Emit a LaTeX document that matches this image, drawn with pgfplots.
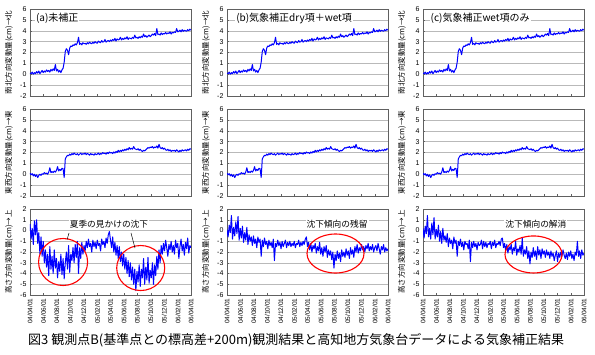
\documentclass[border=0pt]{standalone}
\usepackage{pgfplots}
\pgfplotsset{compat=1.18}
\usepackage{pgfplotstable}
\usepackage{fontspec}
\setmainfont{Liberation Sans}
\newfontfamily\jp{Noto Sans CJK JP}

\pgfplotstableread{
day ns ew ua ub uc
0 0.10 0.10 0.6 0.1 0.2
5 0.05 -0.05 -0.8 -0.6 -0.7
10 0.20 0.05 0.2 0.5 0.4
15 0.00 -0.15 -1.3 -0.2 -0.3
20 0.15 0.00 0.9 1.4 1.4
25 0.05 -0.20 -0.4 -0.8 -0.6
30 0.25 -0.05 1.0 0.3 0.2
35 0.10 -0.30 -1.2 -0.5 -0.8
40 0.30 -0.10 -0.2 0.8 0.7
45 0.05 0.00 -2.2 -0.3 -0.4
50 0.20 -0.10 -0.6 1.3 1.2
55 0.35 0.05 -2.4 -0.9 -0.8
60 0.15 0.00 -1.0 0.2 0.1
65 0.30 0.15 -3.0 -0.7 -0.6
70 0.20 0.05 -1.8 0.4 0.5
75 0.40 0.10 -3.4 -1.1 -1.0
80 0.25 0.00 -2.2 -0.2 -0.1
85 0.35 0.20 -4.2 -0.9 -1.2
90 0.20 0.60 -1.5 0.3 0.2
95 0.45 0.15 -3.6 -1.3 -0.9
100 0.30 0.25 -2.4 -0.4 -0.5
105 0.50 0.15 -4.0 -1.0 -1.1
110 0.35 0.30 -1.8 -0.6 -0.3
115 0.90 0.20 -3.5 -1.4 -1.5
120 0.30 0.35 -2.6 -0.5 -0.7
125 0.45 0.70 -4.4 -1.2 -1.2
130 0.20 0.30 -2.9 -0.8 -0.9
135 0.35 0.45 -3.8 -1.6 -1.7
140 0.15 0.35 -2.2 -0.6 -0.6
145 0.40 0.55 -4.1 -1.1 -1.2
150 0.55 0.50 -2.6 -0.8 -0.9
155 1.10 -0.30 -4.5 -2.4 -2.4
160 2.10 1.40 -3.0 -0.9 -1.0
165 2.35 1.60 -2.0 -1.5 -1.4
170 2.20 1.75 -3.6 -0.7 -0.8
175 1.80 1.70 -1.4 -1.3 -1.5
180 2.40 1.85 -3.9 -1.0 -1.1
185 2.60 1.75 -2.2 -1.7 -1.8
190 2.55 1.90 -2.8 -0.9 -1.0
195 2.70 1.80 -1.6 -1.4 -1.3
200 2.65 1.95 -3.0 -1.1 -1.2
205 2.80 1.85 -1.3 -1.6 -1.7
210 2.70 1.80 -2.5 -0.8 -0.9
215 2.90 1.90 -1.0 -2.8 -2.9
220 3.40 1.75 -4.0 -1.2 -1.1
225 2.75 1.85 -1.6 -1.5 -1.6
230 2.85 1.95 -2.6 -0.9 -1.0
235 2.70 1.80 -1.1 -1.4 -1.5
240 2.90 1.90 -2.2 -1.1 -1.2
245 2.80 1.85 -1.4 -1.7 -1.8
250 2.85 1.95 -1.9 -1.0 -1.1
255 2.75 1.80 -1.0 -1.5 -1.4
260 2.90 1.90 -1.6 -1.2 -1.3
265 2.80 1.85 -0.8 -0.9 -0.9
270 2.95 1.75 -1.5 -1.6 -1.7
275 2.85 1.90 -1.2 -1.1 -1.0
280 2.80 1.80 -2.0 -1.4 -1.5
285 2.95 1.85 -0.9 -1.0 -1.1
290 2.85 1.75 -1.5 -1.5 -1.6
295 3.00 1.90 -1.1 -1.2 -1.2
300 2.90 1.80 -1.7 -1.4 -1.3
305 2.85 1.85 -0.9 -1.0 -1.0
310 3.05 1.95 -1.4 -1.6 -1.7
315 2.95 1.80 -1.2 -1.2 -1.1
320 2.90 1.90 -1.9 -1.3 -1.4
325 3.10 1.85 -0.8 -0.9 -0.9
330 2.95 2.00 -1.3 -1.5 -1.6
335 3.00 1.90 -1.0 -1.1 -1.2
340 3.20 1.95 -1.6 -1.4 -1.3
345 2.95 1.85 -0.7 -1.0 -1.0
350 3.05 2.00 -1.2 -1.3 -1.4
355 3.10 1.90 -0.4 -0.8 -0.8
360 3.00 2.05 -0.1 -0.6 -0.7
365 3.15 1.95 -0.9 -1.5 -1.6
370 3.05 2.00 -1.6 -1.1 -1.2
375 3.20 1.90 -0.6 -1.8 -1.9
380 3.10 2.05 -2.0 -1.2 -1.3
385 3.30 1.95 -1.1 -2.0 -2.1
390 3.05 2.10 -2.3 -1.4 -1.5
395 3.25 2.00 -1.4 -1.7 -1.8
400 3.15 2.20 -2.6 -1.2 -1.3
405 3.20 2.05 -1.5 -2.1 -2.2
410 3.40 2.20 -2.9 -1.5 -1.6
415 3.15 2.10 -2.0 -1.9 -1.9
420 3.30 2.25 -3.3 -1.1 -1.0
425 3.20 2.15 -2.2 -2.2 -2.3
430 3.35 2.30 -3.6 -1.6 -1.7
435 3.25 2.20 -2.5 -2.4 -2.0
440 3.45 2.35 -4.0 -1.5 -1.4
445 3.20 2.25 -2.8 -2.0 -2.2
450 3.35 2.45 -4.3 -1.4 -0.7
455 3.30 2.30 -3.0 -2.5 -2.4
460 3.25 2.40 -4.6 -1.8 -1.8
465 3.40 2.30 -3.4 -2.3 -2.2
470 3.30 2.55 -5.0 -1.9 -1.5
475 3.60 2.35 -3.6 -2.7 -2.6
480 3.35 2.30 -5.6 -2.0 -1.9
485 3.40 2.25 -3.8 -3.5 -3.1
490 3.30 2.35 -4.8 -2.2 -2.0
495 3.45 2.20 -3.2 -2.8 -2.5
500 3.35 2.30 -5.2 -1.9 -1.6
505 3.50 2.15 -3.6 -2.6 -2.4
510 3.40 2.10 -4.4 -2.1 -1.9
515 3.70 2.20 -2.6 -2.9 -2.7
520 3.45 2.15 -5.0 -1.8 -1.5
525 3.55 2.25 -3.4 -2.4 -2.3
530 3.40 2.35 -4.6 -2.0 -1.8
535 3.50 2.45 -2.5 -2.5 -2.6
540 3.60 2.40 -4.9 -1.7 -1.7
545 3.45 2.50 -3.7 -2.3 -2.2
550 3.55 2.45 -4.4 -1.9 -1.9
555 3.70 2.55 -3.0 -2.6 -2.5
560 3.60 2.40 -5.0 -1.6 -1.8
565 3.75 2.50 -3.2 -2.2 -2.3
570 3.55 2.45 -4.2 -1.8 -2.0
575 4.20 2.60 -2.4 -2.5 -2.6
580 3.65 2.40 -3.6 -1.5 -1.9
585 3.70 2.75 -1.8 -2.0 -2.4
590 3.60 2.45 -3.0 -1.3 -2.1
595 3.80 2.35 -1.4 -2.1 -2.8
600 3.65 2.45 -2.2 -1.6 -2.3
605 3.75 2.30 -1.2 -1.9 -1.9
610 3.70 2.40 -1.9 -1.3 -2.9
615 3.85 2.25 -0.9 -1.8 -2.1
620 3.70 2.20 -1.6 -1.5 -2.5
625 3.80 2.30 -2.4 -2.0 -2.0
630 3.75 2.15 -1.3 -1.4 -2.4
635 3.90 2.25 -1.8 -1.7 -1.8
640 3.70 2.10 -1.0 -1.2 -2.3
645 3.85 2.20 -2.0 -1.9 -2.6
650 3.80 2.15 -1.4 -1.5 -2.1
655 3.90 2.20 -2.2 -1.8 -2.7
660 3.85 2.10 -0.9 -1.3 -2.0
665 4.20 2.25 -1.6 -2.0 -2.4
670 3.90 2.15 -1.2 -1.6 -1.9
675 3.95 2.05 -2.6 -1.4 -2.6
680 4.05 2.20 -1.5 -1.9 -2.2
685 3.90 2.10 -0.8 -1.2 -2.8
690 4.10 2.25 -1.9 -1.7 -2.0
695 3.95 2.15 -1.3 -2.2 -2.3
700 4.05 2.20 -2.3 -1.5 -1.0
705 4.00 2.25 -1.1 -1.8 -2.4
710 3.95 2.15 -1.7 -1.3 -1.9
715 4.10 2.30 -0.7 -2.0 -2.6
720 4.00 2.20 -2.1 -1.6 -1.8
725 4.15 2.35 -1.4 -1.9 -2.3
730 4.05 2.30 -1.6 -1.7 -2.1
}\data

\pgfplotsset{
  base/.style={
    scale only axis, width=161pt, xmin=0, xmax=730,
    xtick={0,61,122,183,244,306,365,426,487,548,609,671,730},
    ymajorgrids, grid style={gray!55, line width=0.4pt},
    axis line style={gray!75!black, line width=0.5pt},
    tick align=inside, xtick pos=bottom, ytick pos=left,
    major tick length=2pt, tick style={gray!75!black, line width=0.4pt},
    ytick distance=1,
    tick label style={font=\fontsize{7}{8}\selectfont},
    /pgf/number format/assume math mode=true,
    ylabel style={font=\jp\fontsize{7.5}{8}\selectfont, at={(axis description cs:-0.13,0.5)}, anchor=center},
    clip mode=individual,
  },
  toprow/.style={base, height=87pt, ymin=-2, ymax=6, xticklabels={}},
  botrow/.style={base, height=86pt, ymin=-6, ymax=2,
    xticklabels={04/04/01,04/06/01,04/08/01,04/10/01,04/12/01,05/02/01,05/04/01,05/06/01,05/08/01,05/10/01,05/12/01,06/02/01,06/04/01},
    x tick label style={rotate=90, anchor=east, font=\fontsize{6.5}{7}\selectfont},
    ylabel={高さ方向変動量(cm)→上}},
  dataline/.style={blue, line width=1pt, mark=none, line join=round},
}
\tikzset{
  ttl/.style={anchor=west, fill=white, inner sep=1pt, font=\jp\fontsize{10}{11}\selectfont},
  ann/.style={fill=white, inner sep=1pt, font=\jp\fontsize{8.7}{10}\selectfont},
  ring/.style={red, line width=1.1pt},
}

\begin{document}
\begin{tikzpicture}
\useasboundingbox (0,0) rectangle (595pt,354pt);

% Row 1
\begin{axis}[toprow, at={(30pt,258pt)}, anchor=south west, ylabel={南北方向変動量(cm)→北}]
\addplot[dataline] table[x=day,y=ns]{\data};
\node[ttl] at (rel axis cs:0.03,0.89) {(a)未補正};
\end{axis}
\begin{axis}[toprow, at={(227pt,258pt)}, anchor=south west, ylabel={南北方向変動量(cm)→北}]
\addplot[dataline] table[x=day,y=ns]{\data};
\node[ttl] at (rel axis cs:0.05,0.89) {(b)気象補正dry項＋wet項};
\end{axis}
\begin{axis}[toprow, at={(423pt,258pt)}, anchor=south west, ylabel={南北方向変動量(cm)→北}]
\addplot[dataline] table[x=day,y=ns]{\data};
\node[ttl] at (rel axis cs:0.04,0.89) {(c)気象補正wet項のみ};
\end{axis}

% Row 2
\begin{axis}[toprow, at={(30pt,158pt)}, anchor=south west, ylabel={東西方向変動量(cm)→東}]
\addplot[dataline] table[x=day,y=ew]{\data};
\end{axis}
\begin{axis}[toprow, at={(227pt,158pt)}, anchor=south west, ylabel={東西方向変動量(cm)→東}]
\addplot[dataline] table[x=day,y=ew]{\data};
\end{axis}
\begin{axis}[toprow, at={(423pt,158pt)}, anchor=south west, ylabel={東西方向変動量(cm)→東}]
\addplot[dataline] table[x=day,y=ew]{\data};
\end{axis}

% Row 3
\begin{axis}[botrow, at={(30pt,59pt)}, anchor=south west]
\addplot[dataline] table[x=day,y=ua]{\data};
\draw[ring] (axis cs:150,-2.93) ellipse [x radius=24.5pt, y radius=23.5pt];
\draw[ring] (axis cs:502,-3.49) ellipse [x radius=24pt, y radius=22.5pt];
\draw[black, line width=0.5pt] (axis cs:177,-0.23) -- (axis cs:168,-0.85);
\draw[black, line width=0.5pt] (axis cs:458,-0.23) -- (axis cs:476,-1.63);
\node[ann] at (axis cs:358,0.6) {夏季の見かけの沈下};
\end{axis}
\begin{axis}[botrow, at={(227pt,59pt)}, anchor=south west]
\addplot[dataline] table[x=day,y=ub]{\data};
\draw[ring] (axis cs:492,-2.14) ellipse [x radius=28.5pt, y radius=19.5pt];
\node[ann] at (axis cs:499,0.6) {沈下傾向の残留};
\end{axis}
\begin{axis}[botrow, at={(423pt,59pt)}, anchor=south west]
\addplot[dataline] table[x=day,y=uc]{\data};
\draw[ring] (axis cs:501,-2.23) ellipse [x radius=28.5pt, y radius=18.5pt];
\node[ann] at (axis cs:512,0.55) {沈下傾向の解消};
\end{axis}

\node[anchor=west, font=\jp\fontsize{13}{14}\selectfont, inner sep=0pt] at (28pt,14pt)
  {図3 観測点B(基準点との標高差+200m)観測結果と高知地方気象台データによる気象補正結果};
\end{tikzpicture}
\end{document}
